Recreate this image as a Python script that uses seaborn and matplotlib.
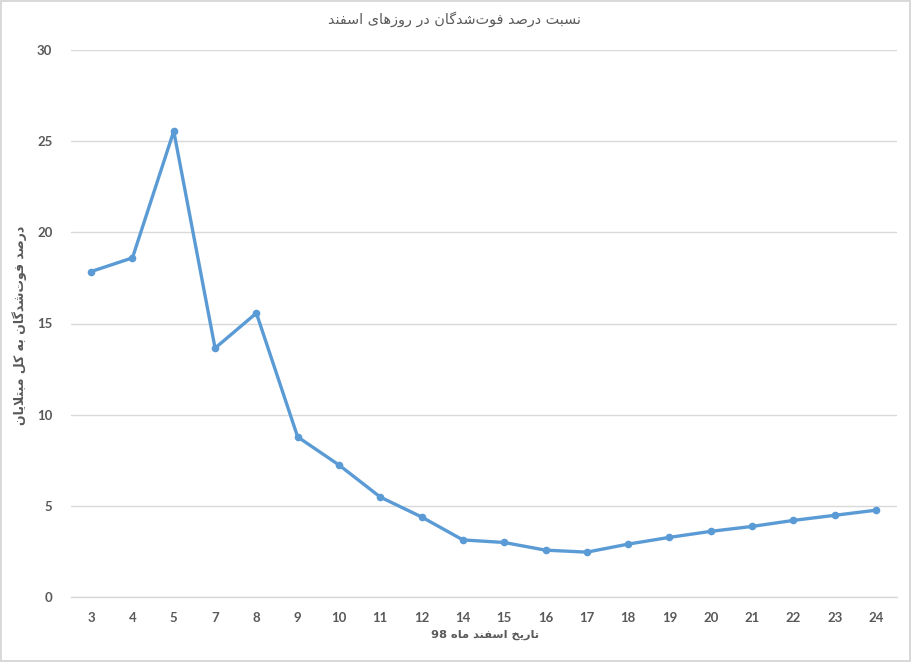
import re
import numpy as np
import pandas as pd
import matplotlib
matplotlib.use("Agg")
import matplotlib.pyplot as plt
import seaborn as sns
from matplotlib.ticker import FixedLocator

# ---------------- data ----------------
days = ["3", "4", "5", "7", "8", "9", "10", "11", "12", "14",
        "15", "16", "17", "18", "19", "20", "21", "22", "23", "24"]
death_pct = [17.85, 18.6, 25.55, 13.65, 15.57, 8.78, 7.24, 5.48, 4.39, 3.13,
             2.99, 2.57, 2.46, 2.9, 3.27, 3.6, 3.87, 4.2, 4.48, 4.76]
y_ticks = [0, 5, 10, 15, 20, 25, 30]

title_text = "نسبت درصد فوت\u200cشدگان در روزهای اسفند"
ylabel_text = "درصد فوت\u200cشدگان به کل مبتلایان"
xlabel_text = "تاریخ اسفند ماه 98"

# ------------- minimal Persian shaping (presentation forms) -------------
DUAL = {
    "\u0628": (0xFE8F, 0xFE90, 0xFE91, 0xFE92),  # beh
    "\u062A": (0xFE95, 0xFE96, 0xFE97, 0xFE98),  # teh
    "\u062E": (0xFEA5, 0xFEA6, 0xFEA7, 0xFEA8),  # khah
    "\u0633": (0xFEB1, 0xFEB2, 0xFEB3, 0xFEB4),  # seen
    "\u0634": (0xFEB5, 0xFEB6, 0xFEB7, 0xFEB8),  # sheen
    "\u0635": (0xFEB9, 0xFEBA, 0xFEBB, 0xFEBC),  # sad
    "\u0641": (0xFED1, 0xFED2, 0xFED3, 0xFED4),  # feh
    "\u0644": (0xFEDD, 0xFEDE, 0xFEDF, 0xFEE0),  # lam
    "\u0645": (0xFEE1, 0xFEE2, 0xFEE3, 0xFEE4),  # meem
    "\u0646": (0xFEE5, 0xFEE6, 0xFEE7, 0xFEE8),  # noon
    "\u0647": (0xFEE9, 0xFEEA, 0xFEEB, 0xFEEC),  # heh
    "\u06CC": (0xFBFC, 0xFBFD, 0xFBFE, 0xFBFF),  # farsi yeh
    "\u06A9": (0xFB8E, 0xFB8F, 0xFB90, 0xFB91),  # keheh
    "\u06AF": (0xFB92, 0xFB93, 0xFB94, 0xFB95),  # gaf
}
RIGHT = {
    "\u0627": (0xFE8D, 0xFE8E),  # alef
    "\u062F": (0xFEA9, 0xFEAA),  # dal
    "\u0631": (0xFEAD, 0xFEAE),  # reh
    "\u0632": (0xFEAF, 0xFEB0),  # zain
    "\u0648": (0xFEED, 0xFEEE),  # waw
}


def shape(s):
    s = s.replace("\u064A", "\u06CC").replace("\u0643", "\u06A9")
    chars = list(s)
    n = len(chars)
    out = []
    i = 0

    def is_letter(c):
        return c in DUAL or c in RIGHT

    while i < n:
        c = chars[i]
        if not is_letter(c):
            if c != "\u200c":
                out.append(c)
            i += 1
            continue
        prev = chars[i - 1] if i > 0 else ""
        pj = prev in DUAL
        if c == "\u0644" and i + 1 < n and chars[i + 1] == "\u0627":
            out.append(chr(0xFEFC if pj else 0xFEFB))
            i += 2
            continue
        nxt = chars[i + 1] if i + 1 < n else ""
        nj = (c in DUAL) and is_letter(nxt)
        if c in RIGHT:
            f = RIGHT[c][1 if pj else 0]
        else:
            f = DUAL[c][(3 if pj else 2) if nj else (1 if pj else 0)]
        out.append(chr(f))
        i += 1
    vis = "".join(out)[::-1]
    vis = re.sub(r"[0-9]+", lambda m: m.group(0)[::-1], vis)
    return vis


# ---------------- plot ----------------
sns.set_theme(style="white")
plt.rcParams["font.family"] = ["DejaVu Sans"]

df = pd.DataFrame({"day": days, "pct": death_pct})

fig = plt.figure(figsize=(9.11, 6.62), dpi=100)
fig.patch.set_facecolor("white")
fig.patch.set_edgecolor("#D9D9D9")
fig.patch.set_linewidth(1.5)

ax = fig.add_axes([70.5 / 911, 1 - 597 / 662, (896.6 - 70.5) / 911, (597 - 50) / 662])

sns.lineplot(data=df, x="day", y="pct", ax=ax, color="#5B9BD5", linewidth=2.4,
             marker="o", markersize=5.5, markeredgewidth=0, sort=False)

ax.set_ylim(0, 30)
ax.set_xlim(-0.5, len(days) - 0.5)
ax.set_yticks(y_ticks)
ax.set_yticklabels([str(t) for t in y_ticks])
ax.set_xticks(range(len(days)))
ax.set_xticklabels(days)
ax.xaxis.set_minor_locator(FixedLocator(np.arange(-0.5, len(days), 1.0)))

ax.grid(axis="y", color="#D9D9D9", linewidth=1.0)
ax.grid(axis="x", visible=False)
ax.set_axisbelow(True)
for side in ["top", "right", "left"]:
    ax.spines[side].set_visible(False)
ax.spines["bottom"].set_color("#D9D9D9")
ax.spines["bottom"].set_linewidth(1.0)

ax.tick_params(axis="x", which="major", length=0, pad=11, labelsize=9.5,
               labelcolor="#595959")
ax.tick_params(axis="x", which="minor", length=4, width=1.0, color="#D9D9D9",
               direction="out")
ax.tick_params(axis="y", length=0, pad=13, labelsize=9.5, labelcolor="#595959")
for lab in ax.get_xticklabels() + ax.get_yticklabels():
    lab.set_fontweight("bold")
    lab.set_fontfamily(["Lato", "DejaVu Sans"])

ax.set_xlabel("")
ax.set_ylabel("")

fig.text(0.5 * (328 + 580) / 911, 1 - 19 / 662, shape(title_text),
         ha="center", va="center", fontsize=10.4, color="#595959",
         family=["DejaVu Sans"])
fig.text(485 / 911, 1 - 635 / 662, shape(xlabel_text), ha="center", va="center",
         fontsize=8.2, fontweight="bold", color="#595959", family=["DejaVu Sans"])
fig.text(20 / 911, 1 - 325 / 662, shape(ylabel_text), ha="center", va="center",
         rotation=90, fontsize=9, fontweight="bold", color="#595959",
         family=["DejaVu Sans"])

fig.savefig("out.png", dpi=100, facecolor=fig.get_facecolor(),
            edgecolor=fig.get_edgecolor())
